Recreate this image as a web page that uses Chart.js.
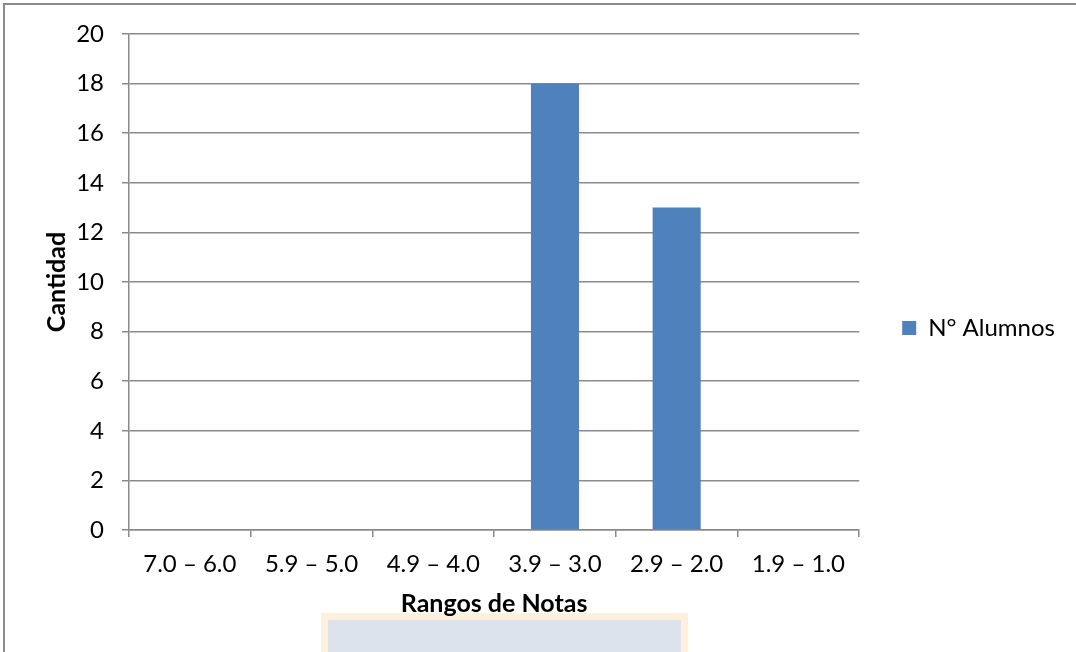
<!DOCTYPE html>
<html>
<head>
<meta charset="utf-8">
<script src="https://cdn.jsdelivr.net/npm/chart.js@4"></script>
<style>
  html, body { margin: 0; padding: 0; background: #ffffff; overflow: hidden; }
  #frame {
    position: absolute; left: 3px; top: 3px; width: 2000px; height: 2000px;
    border: 2px solid #8b8b8b;
  }
  #stamp {
    position: absolute; left: 321px; top: 613px; width: 367px; height: 60px;
    box-sizing: border-box; background: #dce3ec; border: 7px solid #fdf1dd;
    border-bottom: none;
  }
  #wrap { position: absolute; left: 0; top: 0; width: 1076px; height: 652px; }
</style>
</head>
<body>
<div id="frame"></div>
<div id="stamp"></div>
<div id="wrap"><canvas id="chart" width="1076" height="652"></canvas></div>
<script>
// Distribución de alumnos por rango de notas
const categories = ["7.0 – 6.0", "5.9 – 5.0", "4.9 – 4.0", "3.9 – 3.0", "2.9 – 2.0", "1.9 – 1.0"];
const alumnos = [0, 0, 0, 18, 13, 0];
const seriesName = "N° Alumnos";
const yTitle = "Cantidad";
const xTitle = "Rangos de Notas";

const gridColor = "#8a8a8a";
const gridWidth = 1.5;
const fontFamily = "Lato, 'DejaVu Sans', sans-serif";

new Chart(document.getElementById("chart"), {
  type: "bar",
  data: {
    labels: categories,
    datasets: [{
      label: seriesName,
      data: alumnos,
      backgroundColor: "#4f81bd",
      borderWidth: 0,
      categoryPercentage: 1.0,
      barPercentage: 0.395
    }]
  },
  options: {
    responsive: false,
    animation: false,
    layout: { padding: { top: 34, right: 11, bottom: 30, left: 0 } },
    plugins: {
      tooltip: { enabled: false },
      legend: {
        position: "right",
        labels: {
          color: "#000000",
          font: { family: fontFamily, size: 24 },
          boxWidth: 14,
          boxHeight: 14,
          padding: 43
        }
      }
    },
    scales: {
      x: {
        afterFit: (s) => { s.height = 92; },
        grid: { display: true, drawOnChartArea: false, drawTicks: true, tickLength: 7, color: gridColor, lineWidth: gridWidth },
        border: { display: true, color: gridColor, width: gridWidth },
        ticks: { color: "#000000", font: { family: fontFamily, size: 24 }, padding: 13, maxRotation: 0 },
        title: {
          display: true, text: xTitle, color: "#000000",
          font: { family: fontFamily, size: 25, weight: "bold" },
          padding: { top: 4, bottom: 3 }
        }
      },
      y: {
        min: 0, max: 20,
        afterFit: (s) => { s.width = 129; },
        grid: { color: gridColor, lineWidth: gridWidth, tickLength: 7, drawTicks: true },
        border: { display: true, color: gridColor, width: gridWidth },
        ticks: { stepSize: 2, color: "#000000", font: { family: fontFamily, size: 24 }, padding: 18 },
        title: {
          display: true, text: yTitle, color: "#000000",
          font: { family: fontFamily, size: 25, weight: "bold" },
          padding: { top: 42, bottom: 4 }
        }
      }
    }
  }
});
</script>
</body>
</html>
